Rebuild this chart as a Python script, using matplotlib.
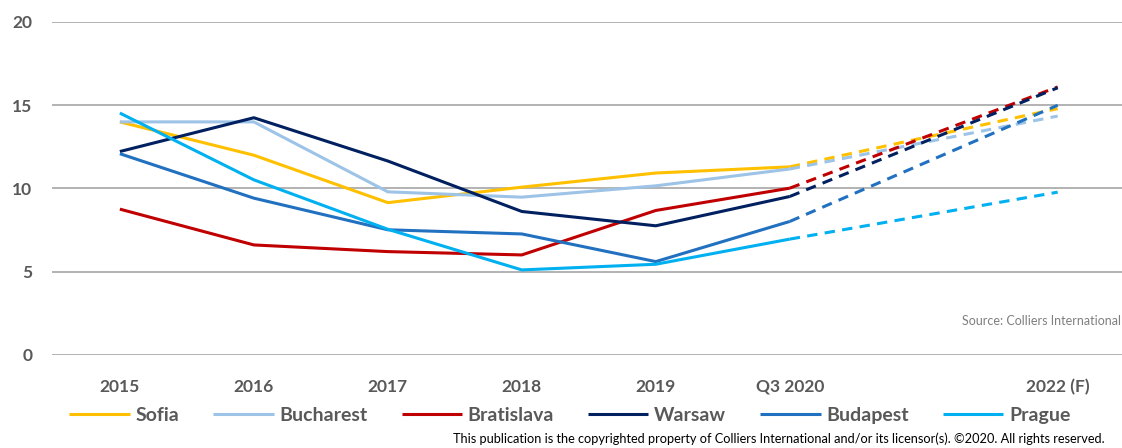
import matplotlib
matplotlib.use('Agg')
import matplotlib.pyplot as plt
import numpy as np

plt.rcParams['font.family'] = ['Lato', 'DejaVu Sans']

# categories (2021 is an empty slot on the axis)
categories = ['2015', '2016', '2017', '2018', '2019', 'Q3 2020', '', '2022 (F)']
data_slots = [0, 1, 2, 3, 4, 5, 7]

sofia      = [14.0, 12.0, 9.15, 10.08, 10.93, 11.3, 14.8]
bucharest  = [14.0, 14.0, 9.8, 9.48, 10.16, 11.17, 14.35]
bratislava = [8.76, 6.61, 6.21, 6.01, 8.68, 10.02, 16.1]
warsaw     = [12.22, 14.25, 11.65, 8.62, 7.76, 9.52, 16.05]
budapest   = [12.09, 9.42, 7.52, 7.27, 5.61, 8.02, 15.0]
prague     = [14.53, 10.52, 7.55, 5.11, 5.45, 6.96, 9.78]

series = [
    ('Sofia', sofia, '#FFC000'),
    ('Bucharest', bucharest, '#9DC3E6'),
    ('Bratislava', bratislava, '#C00000'),
    ('Warsaw', warsaw, '#002060'),
    ('Budapest', budapest, '#2171C0'),
    ('Prague', prague, '#00B0F0'),
]

grey = '#595959'

fig = plt.figure(figsize=(11.22, 4.48), dpi=100)
ax = fig.add_axes([0.0463, 0.2076, 0.9537, 0.7433])

x = np.array(data_slots)
for name, vals, col in series:
    v = np.array(vals)
    ax.plot(x[:6], v[:6], color=col, lw=2.2, label=name, solid_capstyle='butt')
    ax.plot(x[5:], v[5:], color=col, lw=2.2, linestyle=(0, (3.4, 2.4)))

ax.set_xlim(-0.507, 7.48)
ax.set_ylim(0, 20)
ax.set_yticks([0, 5, 10, 15, 20])
ax.set_xticks(range(len(categories)))
ax.set_xticklabels(categories)
ax.grid(axis='y', color='#A6A6A6', lw=1.2)
ax.set_axisbelow(True)
for s in ax.spines.values():
    s.set_visible(False)
ax.tick_params(axis='both', length=0, labelsize=12.5, labelcolor=grey)
ax.tick_params(axis='x', pad=17)
ax.tick_params(axis='y', pad=14)
for lab in ax.get_xticklabels() + ax.get_yticklabels():
    lab.set_fontweight('bold')

fig.text(0.999, 0.283, 'Source: Colliers International',
         ha='right', va='center', fontsize=9, color='#7F7F7F')

leg = fig.legend(loc='center', bbox_to_anchor=(0.508, 0.073), ncol=6, frameon=False,
                 handlelength=3.1, columnspacing=1.75, handletextpad=0.3,
                 prop={'weight': 'bold', 'size': 14})
for t in leg.get_texts():
    t.set_color(grey)

fig.text(0.404, 0.006, 'This publication is the copyrighted property of Colliers International '
         'and/or its licensor(s). \u00a92020. All rights reserved.',
         ha='left', va='bottom', fontsize=9.2, color='black')

fig.savefig('out.png', dpi=100)
